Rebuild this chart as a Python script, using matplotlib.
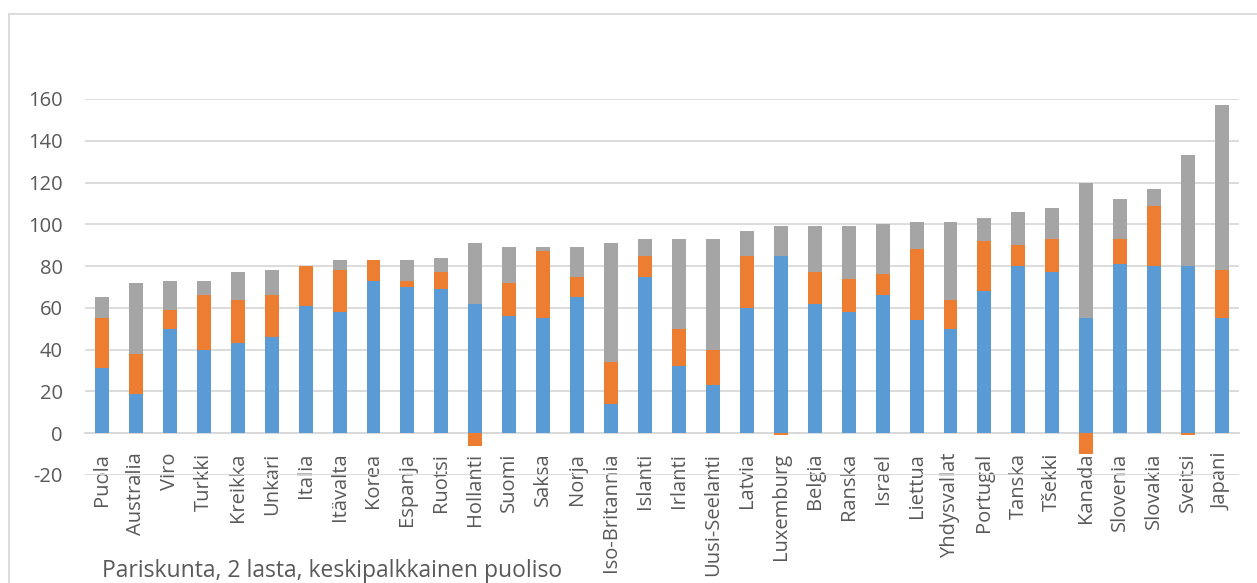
import matplotlib.pyplot as plt
import numpy as np
from matplotlib.patches import Rectangle

plt.rcParams['font.family'] = ['Open Sans', 'DejaVu Sans']
plt.rcParams['axes.unicode_minus'] = False

countries = ["Puola", "Australia", "Viro", "Turkki", "Kreikka", "Unkari", "Italia",
             "Itävalta", "Korea", "Espanja", "Ruotsi", "Hollanti", "Suomi", "Saksa",
             "Norja", "Iso-Britannia", "Islanti", "Irlanti", "Uusi-Seelanti", "Latvia",
             "Luxemburg", "Belgia", "Ranska", "Israel", "Liettua", "Yhdysvallat",
             "Portugal", "Tanska", "Tšekki", "Kanada", "Slovenia", "Slovakia",
             "Sveitsi", "Japani"]
blue = [31, 19, 50, 40, 43, 46, 61, 58, 73, 70, 69, 62, 56, 55, 65, 14, 75, 32, 23, 60,
        85, 62, 58, 66, 54, 50, 68, 80, 77, 55, 81, 80, 80, 55]
orange = [24, 19, 9, 26, 21, 20, 19, 20, 10, 3, 8, -6, 16, 32, 10, 20, 10, 18, 17, 25,
          -1, 15, 16, 10, 34, 14, 24, 10, 16, -10, 12, 29, -1, 23]
gray = [10, 34, 14, 7, 13, 12, 0, 5, 0, 10, 7, 29, 17, 2, 14, 57, 8, 43, 53, 12,
        14, 22, 25, 24, 13, 37, 11, 16, 15, 65, 19, 8, 53, 79]

c_blue = "#5B9BD5"
c_orange = "#ED7D31"
c_gray = "#A5A5A5"
txt = "#595959"

def main():
    b = np.array(blue, dtype=float)
    o = np.array(orange, dtype=float)
    g = np.array(gray, dtype=float)
    x = np.arange(len(countries))

    fig = plt.figure(figsize=(12.57, 5.83), dpi=100)
    ax = fig.add_axes([85/1257, 1-475/583, 1154/1257, 376/583])

    w = 0.41
    ax.bar(x, b, w, color=c_blue, zorder=3)
    # negative values go below zero, positives stack on top of the blue
    o_bottom = np.where(o >= 0, b, 0)
    ax.bar(x, o, w, bottom=o_bottom, color=c_orange, zorder=3)
    ax.bar(x, g, w, bottom=b + np.clip(o, 0, None), color=c_gray, zorder=3)

    ax.set_xlim(-0.5, len(countries) - 0.5)
    ax.set_ylim(-20, 160)
    ax.set_yticks(np.arange(-20, 161, 20))
    ax.yaxis.grid(True, color="#D9D9D9", linewidth=1.3, zorder=0)
    ax.set_axisbelow(True)

    for s in ["top", "right", "left"]:
        ax.spines[s].set_visible(False)
    ax.spines["bottom"].set_position(("data", 0))
    ax.spines["bottom"].set_color("#D9D9D9")
    ax.spines["bottom"].set_linewidth(1.3)

    ax.set_xticks(x)
    ax.set_xticklabels(countries, rotation=90, fontsize=14.5, color=txt)
    ax.tick_params(axis="x", length=0, pad=14)
    ax.tick_params(axis="y", length=0, pad=16, labelsize=14.5, labelcolor=txt)

    fig.text(102/1257, 1-571/583, "Pariskunta, 2 lasta, keskipalkkainen puoliso",
             fontsize=16.5, color=txt, va="center", ha="left")

    border = Rectangle((8.5/1257, -0.1), 1.2, 1 - 13.5/583 + 0.1, transform=fig.transFigure,
                       fill=False, edgecolor="#D9D9D9", linewidth=1.3)
    fig.patches.append(border)

    fig.savefig("out.png", dpi=100)


if __name__ == "__main__":
    main()
